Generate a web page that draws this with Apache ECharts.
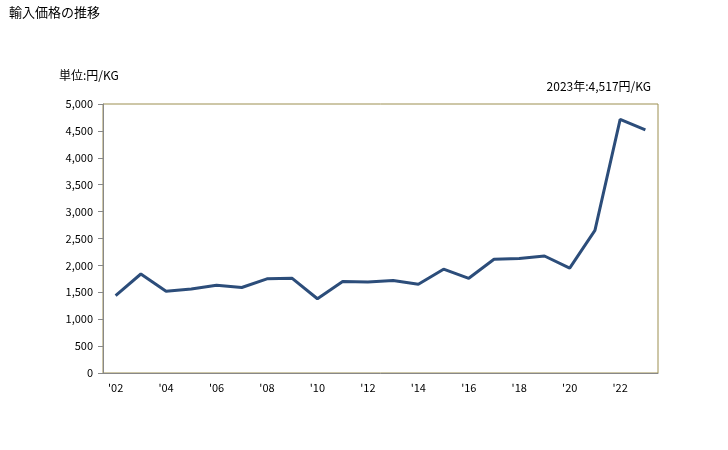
<!DOCTYPE html>
<html><head><meta charset="utf-8">
<script src="https://cdn.jsdelivr.net/npm/echarts@6/dist/echarts.min.js"></script>
<style>html,body{margin:0;padding:0;background:#fff}#c{width:728px;height:450px}</style>
</head><body><div id="c"></div>
<script>
const categories = ["'02","'03","'04","'05","'06","'07","'08","'09","'10","'11","'12","'13","'14","'15","'16","'17","'18","'19","'20","'21","'22","'23"];
const prices = [1440,1840,1520,1560,1630,1590,1750,1760,1380,1700,1690,1720,1650,1930,1760,2115,2130,2175,1950,2650,4715,4517];
const yTicks = [0,500,1000,1500,2000,2500,3000,3500,4000,4500,5000];
const titleText = '輸入価格の推移';
const unitText = '単位:円/KG';
const noteText = '2023年:4,517円/KG';

const font = '"Noto Sans CJK JP", "Liberation Sans", sans-serif';
const chart = echarts.init(document.getElementById('c'));
chart.setOption({
  animation: false,
  textStyle: {fontFamily: font},
  title: [
    {text: titleText, left: 4, top: 1, textStyle: {fontSize: 13, fontWeight: 'normal', color: '#000', fontFamily: font}},
    {text: unitText, left: 54, top: 64, textStyle: {fontSize: 12, fontWeight: 'normal', color: '#000', fontFamily: font}},
    {text: noteText, right: 72, top: 75, textStyle: {fontSize: 12, fontWeight: 'normal', color: '#000', fontFamily: font}}
  ],
  grid: {left: 103, right: 70, top: 104, bottom: 77, show: true, borderColor: '#9c8f50', borderWidth: 1, containLabel: false},
  xAxis: {
    type: 'category', data: categories, boundaryGap: true,
    axisLine: {lineStyle: {color: '#888', width: 1}},
    axisTick: {show: false},
    axisLabel: {interval: 1, color: '#000', fontSize: 11, margin: 9, fontFamily: font},
    splitLine: {show: false}
  },
  yAxis: {
    type: 'value', min: yTicks[0], max: yTicks[yTicks.length-1], interval: 500,
    axisLine: {show: true, lineStyle: {color: '#888', width: 1}},
    axisTick: {show: true, length: 5, lineStyle: {color: '#888'}},
    axisLabel: {color: '#000', fontSize: 11, margin: 10, fontFamily: font,
      formatter: v => v.toLocaleString('en-US')},
    splitLine: {show: false}
  },
  series: [{
    type: 'line', data: prices, symbol: 'none',
    lineStyle: {color: '#2c4d7a', width: 3}
  }]
});
</script></body></html>
